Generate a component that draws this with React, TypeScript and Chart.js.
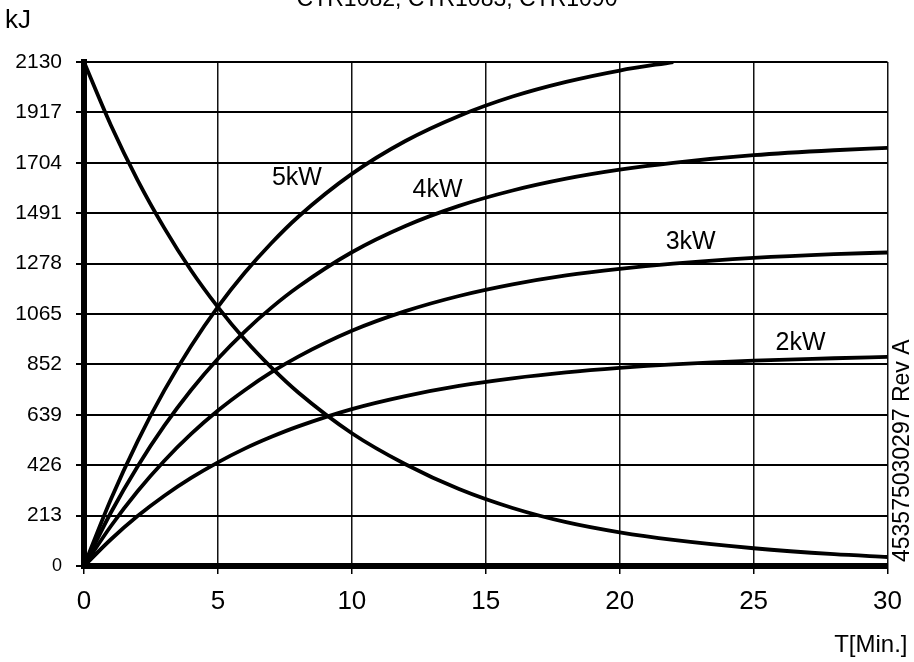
import React, { useEffect, useRef } from "react";
import { Chart, registerables } from "chart.js";

Chart.register(...registerables);

const FONT = "'Liberation Sans', Arial, Helvetica, sans-serif";

const TITLE = "CTR1082, CTR1083, CTR1090";
const Y_UNIT = "kJ";
const X_UNIT = "T[Min.]";
const PART_NO = "453575030297 Rev A";

// tick values
const yTicks = [0, 213, 426, 639, 852, 1065, 1278, 1491, 1704, 1917, 2130];
const xTicks = [0, 5, 10, 15, 20, 25, 30];

// time (minutes)
const minutes = [0, 1, 2, 3, 4, 5, 6, 7, 8, 10, 12, 14, 16, 18, 20, 22, 25, 28, 30];

// stored energy / decay (kJ)
const decay = [2130, 1864, 1631, 1428, 1249, 1094, 957, 838, 733, 561, 430, 325, 245, 185, 142, 110, 75, 50, 38];
const kw5 = [0, 281, 527, 742, 930, 1095, 1239, 1365, 1476, 1657, 1796, 1902, 1984, 2046, 2094, 2130];
const kw4 = [0, 225, 421, 593, 744, 876, 991, 1092, 1180, 1326, 1437, 1522, 1587, 1637, 1675, 1704, 1736, 1757, 1767];
const kw3 = [0, 168, 316, 445, 558, 657, 743, 819, 885, 994, 1077, 1141, 1190, 1228, 1256, 1278, 1302, 1318, 1325];
const kw2 = [0, 112, 211, 297, 372, 438, 496, 546, 590, 663, 718, 761, 793, 818, 837, 852, 868, 878, 884];

// curve labels (anchored in data units)
const curveLabels = ["5kW", "4kW", "3kW", "2kW"];
const labelMinutes = [7.95, 13.2, 22.65, 26.75];
const labelKJ = [1639, 1588, 1368, 944];

const toPoints = (vals: number[]) => vals.map((v, i) => ({ x: minutes[i], y: v }));

const textPlugin = {
  id: "textPlugin",
  afterDraw(chart: any) {
    const { ctx, chartArea, scales } = chart;
    const xs = scales.x;
    const ys = scales.y;
    ctx.save();
    ctx.fillStyle = "#000";

    // title (cut off at top)
    ctx.font = `23px ${FONT}`;
    ctx.textAlign = "center";
    ctx.textBaseline = "alphabetic";
    ctx.fillText(TITLE, chart.width / 2, 6);

    // y unit
    ctx.font = `26px ${FONT}`;
    ctx.textAlign = "left";
    ctx.fillText(Y_UNIT, 5, 28);

    // x unit
    ctx.font = `24px ${FONT}`;
    ctx.textAlign = "right";
    ctx.fillText(X_UNIT, chartArea.right + 20, chartArea.bottom + 86);

    // curve labels
    ctx.font = `25px ${FONT}`;
    ctx.textAlign = "center";
    ctx.textBaseline = "middle";
    curveLabels.forEach((t, i) => {
      ctx.fillText(t, xs.getPixelForValue(labelMinutes[i]), ys.getPixelForValue(labelKJ[i]));
    });

    // rotated part number
    ctx.translate(chartArea.right + 15, chartArea.bottom - 4);
    ctx.rotate(-Math.PI / 2);
    ctx.font = `23px ${FONT}`;
    ctx.textAlign = "left";
    ctx.textBaseline = "middle";
    ctx.fillText(PART_NO, 0, 0);
    ctx.restore();
  },
};

export default function App() {
  const ref = useRef<HTMLCanvasElement | null>(null);

  useEffect(() => {
    if (!ref.current) return;
    const line = (vals: number[]) => ({
      data: toPoints(vals),
      borderColor: "#000",
      backgroundColor: "#000",
      borderWidth: 3.8,
      pointRadius: 0,
      fill: false,
      cubicInterpolationMode: "monotone" as const,
    });
    const chart = new Chart(ref.current, {
      type: "line",
      data: {
        datasets: [line(decay), line(kw5), line(kw4), line(kw3), line(kw2)],
      },
      options: {
        animation: false,
        responsive: false,
        devicePixelRatio: 1,
        layout: { padding: { top: 62, right: 26, left: 0, bottom: 0 } },
        plugins: {
          legend: { display: false },
          tooltip: { enabled: false },
          title: { display: false },
        },
        scales: {
          x: {
            type: "linear",
            min: 0,
            max: 30,
            afterBuildTicks: (s: any) => {
              s.ticks = xTicks.map((v) => ({ value: v }));
            },
            afterFit: (s: any) => {
              s.height = 96;
            },
            grid: {
              color: "#111",
              lineWidth: 1.5,
              tickLength: 8,
              tickColor: "#000",
              drawTicks: true,
            },
            border: { display: true, color: "#000", width: 6 },
            ticks: {
              color: "#000",
              font: { family: FONT, size: 26 },
              padding: 12,
              maxRotation: 0,
              callback: (v: any) => String(v),
            },
          },
          y: {
            type: "linear",
            min: 0,
            max: 2130,
            afterBuildTicks: (s: any) => {
              s.ticks = yTicks.map((v) => ({ value: v }));
            },
            afterFit: (s: any) => {
              s.width = 84;
            },
            grid: {
              color: "#000",
              lineWidth: 2,
              tickLength: 8,
              tickColor: "#000",
              drawTicks: true,
            },
            border: { display: true, color: "#000", width: 6 },
            ticks: {
              color: "#000",
              font: (c: any) => ({ family: FONT, size: c.tick && c.tick.value === 0 ? 18 : 21 }),
              padding: 14,
              callback: (v: any) => String(v),
            },
          },
        },
      },
      plugins: [textPlugin],
    });
    return () => chart.destroy();
  }, []);

  return (
    <div style={{ position: "fixed", left: 0, top: 0, width: 914, height: 662, background: "#fff" }}>
      <canvas ref={ref} width={914} height={662} style={{ width: 914, height: 662, display: "block" }} />
    </div>
  );
}
